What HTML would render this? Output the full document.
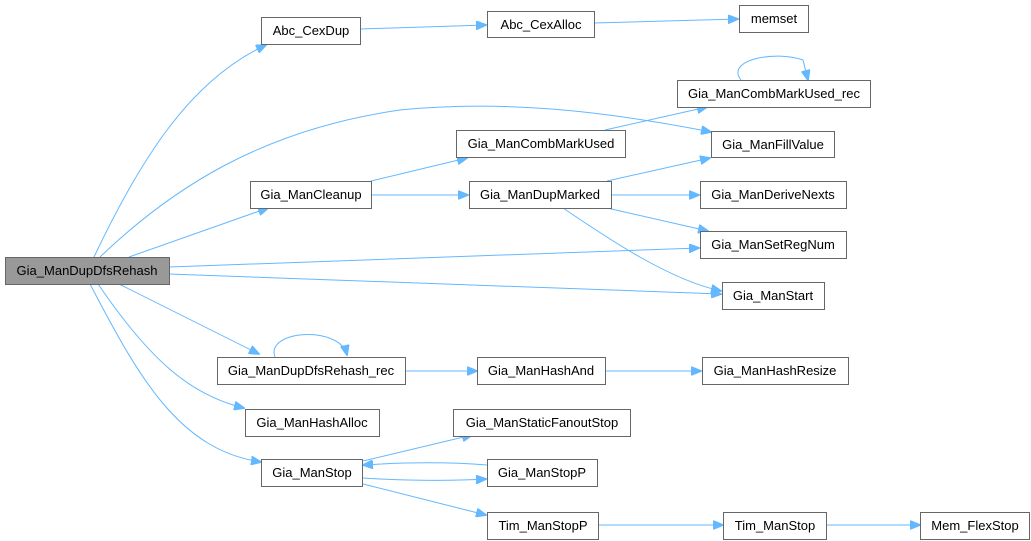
<!DOCTYPE html>
<html><head><meta charset="utf-8"><style>
html,body{margin:0;padding:0;background:#fff;}
svg{display:block;}
text{font-family:"Liberation Sans",Arial,sans-serif;font-size:13px;fill:#000;}
.n{fill:#fff;stroke:#666;stroke-width:1;}
.e{fill:none;stroke:#63b8ff;stroke-width:1;}
.a{fill:#63b8ff;stroke:#63b8ff;}
</style></head><body>
<svg width="1031" height="541" viewBox="0 0 1031 541" xmlns="http://www.w3.org/2000/svg">
<defs><marker id="m" markerWidth="11" markerHeight="9" refX="10" refY="4.5" orient="auto" markerUnits="userSpaceOnUse"><path d="M0,0 L11,4.5 L0,9 Z" class="a"/></marker></defs>
<g class="e" marker-end="url(#m)">
<path d="M94,257 C140,160 190,80 266,45"/>
<path d="M360,29 L486,25"/>
<path d="M594,23 L738,19"/>
<path d="M100,257 C170,190 260,130 400,110 C500,100 600,110 711,132"/>
<path d="M129,257 L268,208"/>
<path d="M371,181 L467,158"/>
<path d="M371,195 L468,195"/>
<path d="M605,130 L707,107"/>
<path d="M741,80 C725,60 775,50 803,60 L808,80" />
<path d="M607,181 L710,158"/>
<path d="M612,195 L699,195"/>
<path d="M607,208 L708,231"/>
<path d="M563,208 C610,240 670,280 721,291"/>
<path d="M169,267 L699,248"/>
<path d="M169,274 L721,294"/>
<path d="M119,284 L259,354"/>
<path d="M275,357 C265,330 340,325 347,355"/>
<path d="M405,371 L477,371"/>
<path d="M606,371 L701,371"/>
<path d="M98,284 C150,360 190,395 244,408"/>
<path d="M90,284 C140,380 180,450 261,462"/>
<path d="M363,461 L472,435"/>
<path d="M487,465 C450,462 410,462 363,465"/>
<path d="M363,478 C410,481 450,481 486,479"/>
<path d="M363,484 L486,515"/>
<path d="M599,525 L723,525"/>
<path d="M827,525 L920,525"/>
</g>
<rect x="5.5" y="257.5" width="164" height="27" fill="#999" stroke="#666"/>
<text x="87" y="275" text-anchor="middle">Gia_ManDupDfsRehash</text>
<g>
<rect class="n" x="261.5" y="17.5" width="99" height="27"/><text x="311" y="35" text-anchor="middle">Abc_CexDup</text>
<rect class="n" x="487.5" y="11.5" width="107" height="26"/><text x="541" y="29" text-anchor="middle">Abc_CexAlloc</text>
<rect class="n" x="739.5" y="5.5" width="69" height="27"/><text x="774" y="23" text-anchor="middle">memset</text>
<rect class="n" x="677.5" y="80.5" width="193" height="27"/><text x="774" y="98" text-anchor="middle">Gia_ManCombMarkUsed_rec</text>
<rect class="n" x="711.5" y="131.5" width="123" height="26"/><text x="773" y="149" text-anchor="middle">Gia_ManFillValue</text>
<rect class="n" x="456.5" y="130.5" width="169" height="27"/><text x="541" y="148" text-anchor="middle">Gia_ManCombMarkUsed</text>
<rect class="n" x="250.5" y="181.5" width="121" height="27"/><text x="311" y="199" text-anchor="middle">Gia_ManCleanup</text>
<rect class="n" x="469.5" y="181.5" width="142" height="27"/><text x="540" y="199" text-anchor="middle">Gia_ManDupMarked</text>
<rect class="n" x="700.5" y="181.5" width="146" height="27"/><text x="773" y="199" text-anchor="middle">Gia_ManDeriveNexts</text>
<rect class="n" x="700.5" y="231.5" width="146" height="27"/><text x="773" y="249" text-anchor="middle">Gia_ManSetRegNum</text>
<rect class="n" x="722.5" y="282.5" width="102" height="27"/><text x="773" y="300" text-anchor="middle">Gia_ManStart</text>
<rect class="n" x="217.5" y="357.5" width="188" height="27"/><text x="311" y="375" text-anchor="middle">Gia_ManDupDfsRehash_rec</text>
<rect class="n" x="477.5" y="357.5" width="128" height="27"/><text x="541" y="375" text-anchor="middle">Gia_ManHashAnd</text>
<rect class="n" x="702.5" y="357.5" width="146" height="27"/><text x="775" y="375" text-anchor="middle">Gia_ManHashResize</text>
<rect class="n" x="245.5" y="409.5" width="134" height="27"/><text x="312" y="427" text-anchor="middle">Gia_ManHashAlloc</text>
<rect class="n" x="453.5" y="409.5" width="177" height="27"/><text x="542" y="427" text-anchor="middle">Gia_ManStaticFanoutStop</text>
<rect class="n" x="261.5" y="459.5" width="101" height="27"/><text x="312" y="477" text-anchor="middle">Gia_ManStop</text>
<rect class="n" x="487.5" y="459.5" width="110" height="27"/><text x="542" y="477" text-anchor="middle">Gia_ManStopP</text>
<rect class="n" x="487.5" y="512.5" width="111" height="27"/><text x="543" y="530" text-anchor="middle">Tim_ManStopP</text>
<rect class="n" x="723.5" y="512.5" width="103" height="27"/><text x="775" y="530" text-anchor="middle">Tim_ManStop</text>
<rect class="n" x="920.5" y="512.5" width="109" height="27"/><text x="975" y="530" text-anchor="middle">Mem_FlexStop</text>
</g>
</svg>
</body></html>
